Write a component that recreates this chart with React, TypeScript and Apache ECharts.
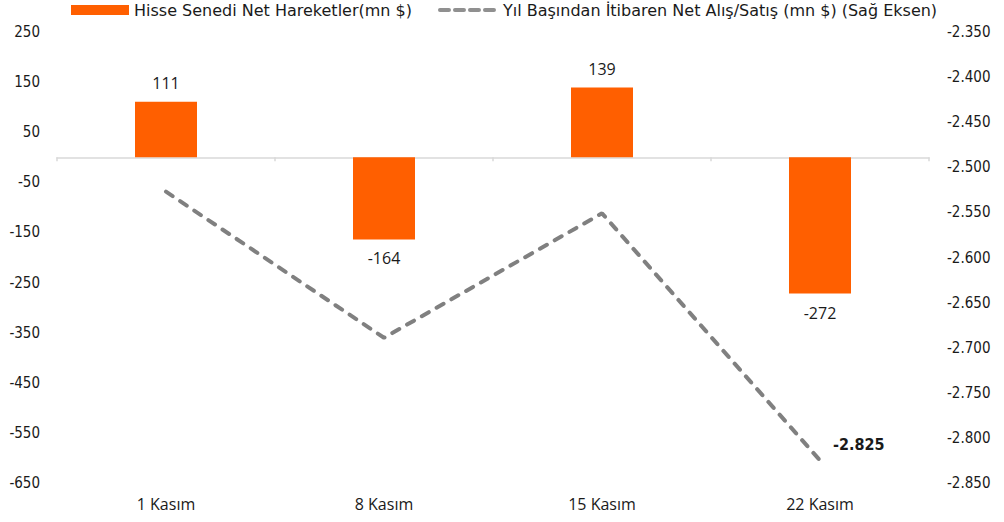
import React, { useEffect, useRef } from "react";
import * as echarts from "echarts";

const categories = ["1 Kasım", "8 Kasım", "15 Kasım", "22 Kasım"];
const netFlows = [111, -164, 139, -272];
const ytdNet = [-2527, -2689, -2551, -2825];
const barName = "Hisse Senedi Net Hareketler(mn $)";
const lineName = "Yıl Başından İtibaren Net Alış/Satış (mn $) (Sağ Eksen)";

const fmtThousands = (v: number) => {
  const a = Math.abs(Math.round(v));
  const s = a >= 1000 ? Math.floor(a / 1000) + "." + String(a % 1000).padStart(3, "0") : String(a);
  return (v < 0 ? "-" : "") + s;
};

const FONT = "'DejaVu Sans Condensed', 'DejaVu Sans'";
const FONT_LEG = "'DejaVu Sans'";
const FONT2 = "'Open Sans'";

export default function App() {
  const ref = useRef<HTMLDivElement>(null);
  useEffect(() => {
    document.body.style.margin = "0";
    const chart = echarts.init(ref.current!, null, { renderer: "svg" });
    chart.setOption({
      animation: false,
      legend: {
        top: -3,
        left: 66,
        itemWidth: 58,
        itemHeight: 10,
        itemGap: 26,
        textStyle: { fontFamily: FONT_LEG, fontSize: 16, color: "#1a1a1a" },
        data: [
          { name: barName, icon: "rect" },
          { name: lineName, itemStyle: { opacity: 0 }, lineStyle: { width: 4, type: [9, 6], color: "#909090" } },
        ],
      },
      grid: { left: 57, right: 75, top: 32, bottom: 39 },
      xAxis: [
        {
          type: "category",
          data: categories,
          position: "bottom",
          axisLine: { show: false },
          axisTick: { show: false },
          axisLabel: { fontFamily: FONT2, fontSize: 16, color: "#1a1a1a", margin: 13 },
        },
        {
          type: "category",
          data: categories,
          position: "bottom",
          axisLine: { show: true, onZero: true, onZeroAxisIndex: 0, lineStyle: { color: "#d9d9d9", width: 1.5 } },
          axisTick: { show: true, length: 4, lineStyle: { color: "#d9d9d9", width: 1.5 } },
          axisLabel: { show: false },
        },
      ],
      yAxis: [
        {
          type: "value",
          min: -650,
          max: 250,
          interval: 100,
          axisLine: { show: false },
          axisTick: { show: false },
          splitLine: { show: false },
          axisLabel: { fontFamily: FONT, fontSize: 15, color: "#1a1a1a", margin: 17 },
        },
        {
          type: "value",
          min: -2850,
          max: -2350,
          interval: 50,
          position: "right",
          axisLine: { show: false },
          axisTick: { show: false },
          splitLine: { show: false },
          axisLabel: { fontFamily: FONT, fontSize: 15, color: "#1a1a1a", margin: 18, formatter: fmtThousands },
        },
      ],
      series: [
        {
          name: barName,
          type: "bar",
          data: netFlows,
          xAxisIndex: 0,
          yAxisIndex: 0,
          barWidth: 62,
          itemStyle: { color: "#FF5F00" },
          label: {
            show: true,
            position: "outside",
            distance: 11,
            fontFamily: FONT2,
            fontSize: 16,
            color: "#1a1a1a",
          },
        },
        {
          name: lineName,
          type: "line",
          data: ytdNet.map((v, i) =>
            i === ytdNet.length - 1
              ? {
                  value: v,
                  label: {
                    show: true,
                    position: "right",
                    offset: [8, -16],
                    fontFamily: FONT,
                    fontWeight: "bold",
                    fontSize: 16,
                    color: "#1a1a1a",
                    formatter: (p: any) => fmtThousands(p.value),
                  },
                }
              : v
          ),
          xAxisIndex: 0,
          yAxisIndex: 1,
          symbol: "circle",
          symbolSize: 0,
          showSymbol: true,
          lineStyle: { color: "#808080", width: 4, type: [8, 9], cap: "round" },
          itemStyle: { color: "#808080" },
        },
      ],
    });
    return () => chart.dispose();
  }, []);
  return <div ref={ref} style={{ width: 1004, height: 522 }} />;
}
